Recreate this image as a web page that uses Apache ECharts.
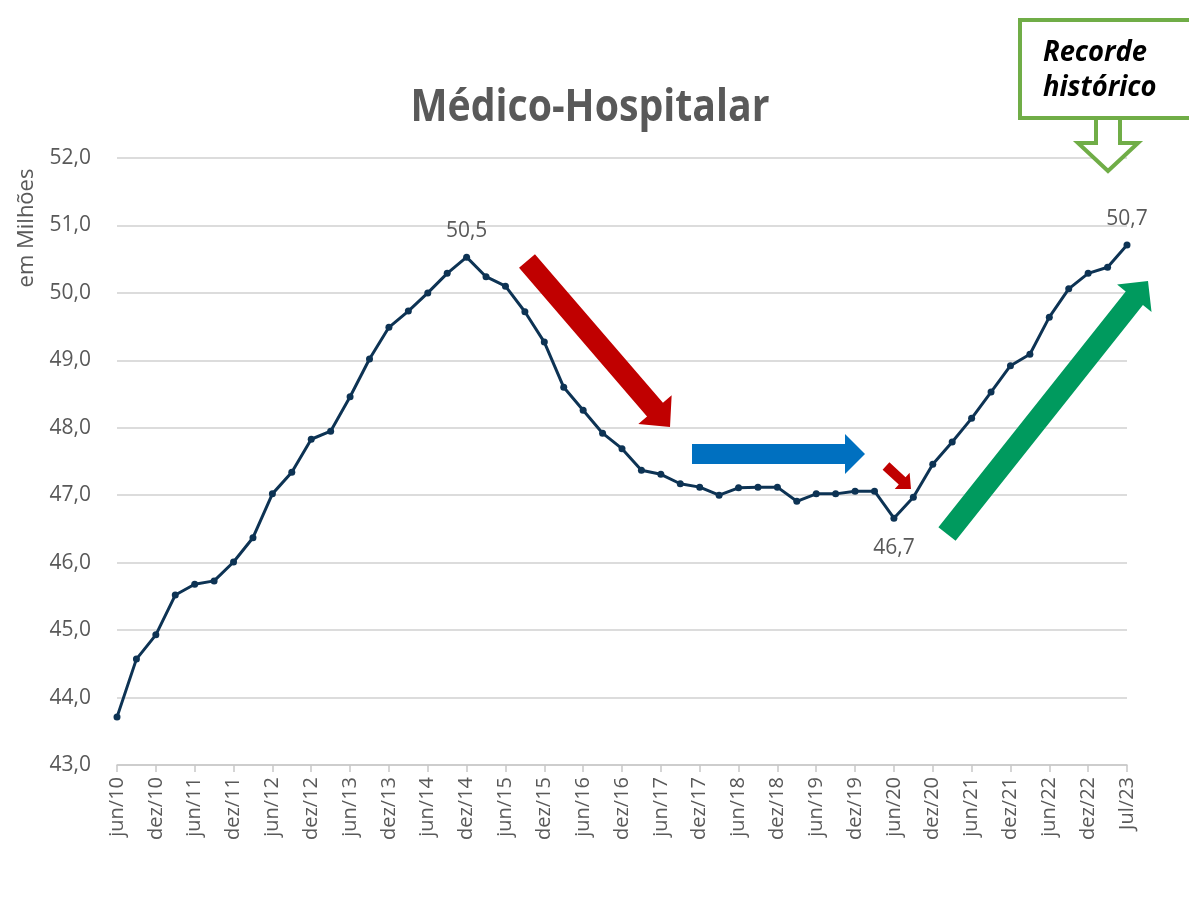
<!DOCTYPE html>
<html>
<head>
<meta charset="utf-8" />
<script src="https://cdn.jsdelivr.net/npm/echarts@6/dist/echarts.min.js"></script>
<title>Médico-Hospitalar</title>
<style>
  html, body { margin: 0; padding: 0; background: #fff; }
  #main { width: 1189px; height: 924px; }
</style>
</head>
<body>
<div id="main"></div>
<script type="text/javascript">
// trimestres, rótulos do eixo x
var quarters = [
  'jun/10', 'set/10', 'dez/10',
  'mar/11', 'jun/11', 'set/11', 'dez/11',
  'mar/12', 'jun/12', 'set/12', 'dez/12',
  'mar/13', 'jun/13', 'set/13', 'dez/13',
  'mar/14', 'jun/14', 'set/14', 'dez/14',
  'mar/15', 'jun/15', 'set/15', 'dez/15',
  'mar/16', 'jun/16', 'set/16', 'dez/16',
  'mar/17', 'jun/17', 'set/17', 'dez/17',
  'mar/18', 'jun/18', 'set/18', 'dez/18',
  'mar/19', 'jun/19', 'set/19', 'dez/19',
  'mar/20', 'jun/20', 'set/20', 'dez/20',
  'mar/21', 'jun/21', 'set/21', 'dez/21',
  'mar/22', 'jun/22', 'set/22', 'dez/22',
  'mar/23', 'Jul/23'
];
// beneficiários (milhões)
var beneficiarios = [
  43.71, 44.57, 44.93,
  45.52, 45.68, 45.73, 46.01,
  46.37, 47.02, 47.34, 47.83,
  47.95, 48.46, 49.02, 49.49,
  49.73, 50.00, 50.29, 50.53,
  50.24, 50.10, 49.72, 49.27,
  48.60, 48.26, 47.92, 47.69,
  47.37, 47.31, 47.17, 47.12,
  47.00, 47.11, 47.12, 47.12,
  46.91, 47.02, 47.02, 47.06,
  47.06, 46.66, 46.97, 47.46,
  47.79, 48.14, 48.53, 48.92,
  49.09, 49.64, 50.06, 50.29,
  50.38, 50.71
];
var labelTop = [18, 52];     // rótulo acima do ponto
var labelBottom = [40];      // rótulo abaixo do ponto
var yTicks = [43, 52, 1];    // min, max, intervalo

var fmt = function (v) { return v.toFixed(1).replace('.', ','); };

// largura de texto para simular fonte condensada
var ctx = document.createElement('canvas').getContext('2d');
function textWidth(txt, font) { ctx.font = font; return ctx.measureText(txt).width; }

function arrow(x1, y1, x2, y2, sw, hw, hl) {
  var len = Math.sqrt((x2 - x1) * (x2 - x1) + (y2 - y1) * (y2 - y1));
  var dx = (x2 - x1) / len, dy = (y2 - y1) / len;
  var px = -dy, py = dx;
  var bx = x2 - dx * hl, by = y2 - dy * hl;
  return [
    [x1 + px * sw / 2, y1 + py * sw / 2],
    [bx + px * sw / 2, by + py * sw / 2],
    [bx + px * hw / 2, by + py * hw / 2],
    [x2, y2],
    [bx - px * hw / 2, by - py * hw / 2],
    [bx - px * sw / 2, by - py * sw / 2],
    [x1 - px * sw / 2, y1 - py * sw / 2]
  ];
}

var seriesData = beneficiarios.map(function (v, i) {
  if (labelTop.indexOf(i) >= 0) {
    return { value: v, label: { show: true, position: 'top', distance: 12 } };
  }
  if (labelBottom.indexOf(i) >= 0) {
    return { value: v, label: { show: true, position: 'bottom', distance: 16 } };
  }
  return v;
});

var titleFont = 'bold 45px "Open Sans"';
var titleScale = 359 / textWidth('Médico-Hospitalar', titleFont);
var recFont = 'italic bold 29px "Open Sans"';
var recScale = 104 / textWidth('Recorde', recFont);

var myChart = echarts.init(document.getElementById('main'), null, { renderer: 'canvas' });
var option = {
  backgroundColor: '#ffffff',
  animation: false,
  grid: { left: 117, right: 62, top: 158, bottom: 159 },
  xAxis: {
    type: 'category',
    boundaryGap: false,
    data: quarters,
    axisLine: { lineStyle: { color: '#C8C8C8', width: 1.5 } },
    axisTick: { show: true, interval: 1, length: 7, lineStyle: { color: '#C8C8C8', width: 1.5 } },
    axisLabel: {
      interval: 1,
      rotate: 90,
      margin: 12,
      color: '#595959',
      fontSize: 20,
      fontFamily: 'Open Sans'
    },
    splitLine: { show: false }
  },
  yAxis: {
    type: 'value',
    min: yTicks[0],
    max: yTicks[1],
    interval: yTicks[2],
    axisLine: { show: false },
    axisTick: { show: false },
    axisLabel: {
      formatter: fmt,
      color: '#595959',
      fontSize: 21,
      fontFamily: 'Open Sans',
      margin: 26
    },
    splitLine: { lineStyle: { color: '#D0D0D0', width: 1.5 } }
  },
  series: [{
    name: 'Médico-Hospitalar',
    type: 'line',
    data: seriesData,
    symbol: 'circle',
    symbolSize: 7,
    lineStyle: { color: '#0D3354', width: 3 },
    itemStyle: { color: '#0D3354' },
    label: {
      show: false,
      formatter: function (p) { return fmt(p.value); },
      color: '#595959',
      fontSize: 21,
      fontFamily: 'Open Sans'
    },
    z: 3
  }],
  graphic: [
    {
      type: 'text',
      x: 590, y: 108,
      scaleX: titleScale,
      style: {
        text: 'Médico-Hospitalar',
        font: titleFont,
        fill: '#595959',
        align: 'center',
        verticalAlign: 'middle'
      }
    },
    {
      type: 'text',
      x: 27, y: 228,
      rotation: Math.PI / 2,
      style: {
        text: 'em Milhões',
        font: '22px "Open Sans"',
        fill: '#595959',
        align: 'center',
        verticalAlign: 'middle'
      }
    },
    // setas
    { type: 'polygon', shape: { points: arrow(527, 261, 670, 427, 21, 44, 23) }, style: { fill: '#C00000' }, z: 10 },
    { type: 'polygon', shape: { points: arrow(692, 454, 865, 454, 20, 40, 20) }, style: { fill: '#0070C0' }, z: 10 },
    { type: 'polygon', shape: { points: arrow(886, 466, 911, 489, 10, 22, 12) }, style: { fill: '#C00000' }, z: 10 },
    { type: 'polygon', shape: { points: arrow(947, 534, 1148, 281, 22, 44, 22) }, style: { fill: '#009A5E' }, z: 10 },
    // caixa "Recorde histórico"
    {
      type: 'rect',
      shape: { x: 1020, y: 20, width: 220, height: 98 },
      style: { fill: '#ffffff', stroke: '#70AD47', lineWidth: 4 },
      z: 10
    },
    {
      type: 'polygon',
      shape: { points: [[1096, 118], [1120, 118], [1120, 143], [1138, 143], [1108, 171], [1078, 143], [1096, 143]] },
      style: { fill: '#ffffff', stroke: '#70AD47', lineWidth: 4 },
      z: 11
    },
    {
      type: 'text',
      x: 1043, y: 53,
      scaleX: recScale,
      style: { text: 'Recorde', font: recFont, fill: '#000000', align: 'left', verticalAlign: 'middle' },
      z: 12
    },
    {
      type: 'text',
      x: 1043, y: 88,
      scaleX: recScale,
      style: { text: 'histórico', font: recFont, fill: '#000000', align: 'left', verticalAlign: 'middle' },
      z: 12
    }
  ]
};
myChart.setOption(option);
</script>
</body>
</html>
